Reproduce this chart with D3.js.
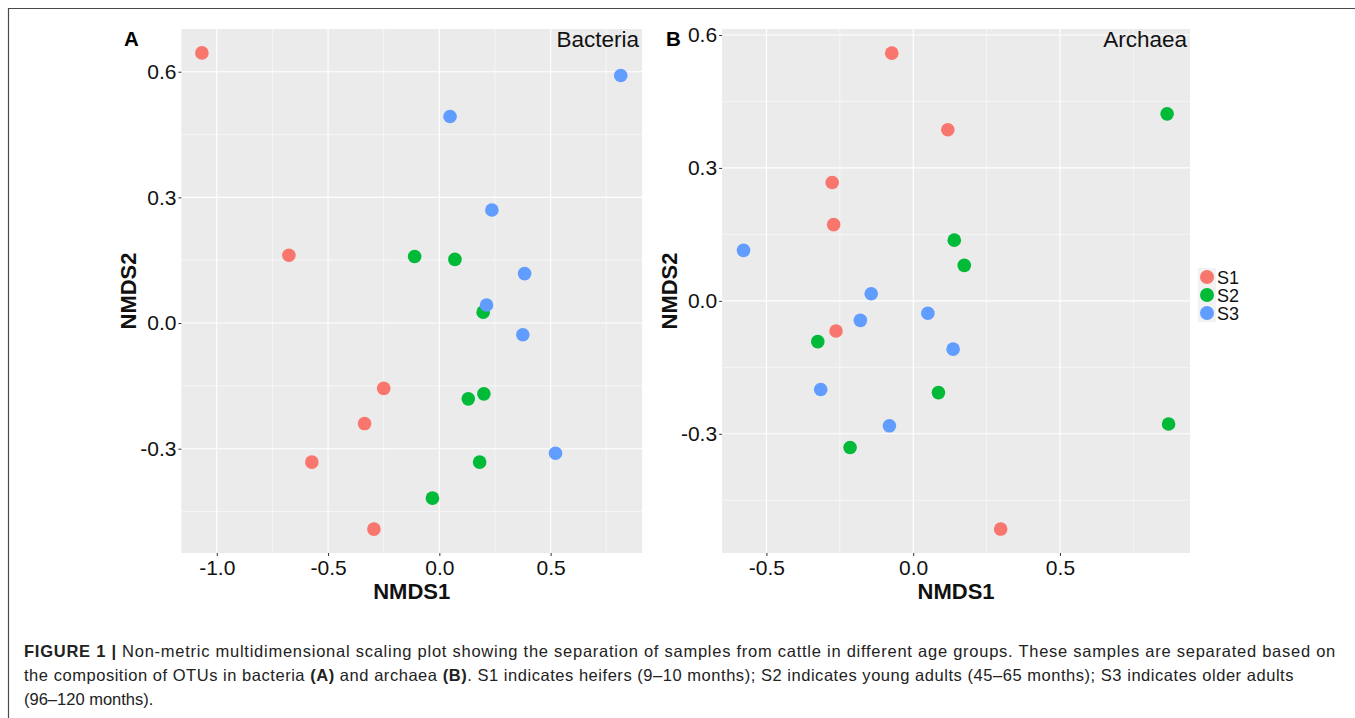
<!DOCTYPE html>
<html>
<head>
<meta charset="utf-8">
<script src="https://cdn.jsdelivr.net/npm/d3@7"></script>
<style>
  body { margin: 0; background: #fff; }
  svg { display: block; font-family: "Liberation Sans", Arial, sans-serif; }
</style>
</head>
<body>
<script>
const width = 1355;
const height = 718;

const groups = ['S1', 'S2', 'S3'];
const colors = ['#F8766D', '#00BA38', '#619CFF'];

// panel A, bacteria: [NMDS1, NMDS2]
const bacteriaS1 = [[-1.067, 0.645], [-0.676, 0.162], [-0.250, -0.156], [-0.336, -0.240], [-0.573, -0.332], [-0.294, -0.492]];
const bacteriaS2 = [[-0.111, 0.159], [0.070, 0.152], [0.197, 0.026], [0.130, -0.181], [0.200, -0.169], [0.181, -0.332], [-0.031, -0.418]];
const bacteriaS3 = [[0.815, 0.591], [0.048, 0.493], [0.236, 0.270], [0.383, 0.118], [0.212, 0.043], [0.375, -0.028], [0.522, -0.311]];

// panel B, archaea
const archaeaS1 = [[-0.073, 0.559], [0.118, 0.386], [-0.276, 0.267], [-0.271, 0.172], [-0.263, -0.068], [0.298, -0.515]];
const archaeaS2 = [[0.865, 0.422], [0.140, 0.137], [0.174, 0.080], [-0.325, -0.092], [0.086, -0.207], [-0.215, -0.331], [0.870, -0.278]];
const archaeaS3 = [[-0.578, 0.114], [-0.143, 0.016], [-0.180, -0.044], [0.050, -0.028], [0.136, -0.109], [-0.315, -0.200], [-0.081, -0.282]];

const xTicksA = [-1.0, -0.5, 0.0, 0.5];
const xTicksB = [-0.5, 0.0, 0.5];
const yTicks = [-0.3, 0.0, 0.3, 0.6];

const captionLines = [
  'Non-metric multidimensional scaling plot showing the separation of samples from cattle in different age groups. These samples are separated based on',
  'the composition of OTUs in bacteria |(A)| and archaea |(B)|. S1 indicates heifers (9\u201310 months); S2 indicates young adults (45\u201365 months); S3 indicates older adults',
  '(96\u2013120 months).'
];

const svg = d3.select('body').append('svg')
  .attr('width', width)
  .attr('height', height);

// figure frame (top + left rule)
svg.append('path')
  .attr('d', `M8.5,${height} V8.5 H${width}`)
  .attr('fill', 'none')
  .attr('stroke', '#4a4a4a')
  .attr('stroke-width', 1.2);

const panels = [
  {
    tag: 'A', title: 'Bacteria',
    xDomain: [-1.159, 0.911], yDomain: [-0.549, 0.702],
    left: 181.4, right: 642.1,
    xTicks: xTicksA,
    series: [bacteriaS1, bacteriaS2, bacteriaS3]
  },
  {
    tag: 'B', title: 'Archaea',
    xDomain: [-0.651, 0.943], yDomain: [-0.569, 0.6135],
    left: 722.1, right: 1190,
    xTicks: xTicksB,
    series: [archaeaS1, archaeaS2, archaeaS3]
  }
];

const plotTop = 29;
const plotBottom = 553;

const midpoints = ticks => {
  const step = ticks[1] - ticks[0];
  const out = [];
  for (let i = -1; i < ticks.length; i++) out.push((i < 0 ? ticks[0] - step : ticks[i]) + step / 2);
  return out;
};

const fmt = d => d3.format('.1f')(d).replace('\u2212', '-');

panels.forEach(p => {
  const x = d3.scaleLinear().domain(p.xDomain).range([p.left, p.right]);
  const y = d3.scaleLinear().domain(p.yDomain).range([plotBottom, plotTop]);
  const g = svg.append('g');

  g.append('rect')
    .attr('x', p.left).attr('y', plotTop)
    .attr('width', p.right - p.left).attr('height', plotBottom - plotTop)
    .attr('fill', '#EBEBEB');

  // minor grid
  const inX = v => v > p.xDomain[0] && v < p.xDomain[1];
  const inY = v => v > p.yDomain[0] && v < p.yDomain[1];
  g.append('g').selectAll('line').data(midpoints(p.xTicks).filter(inX)).join('line')
    .attr('x1', d => x(d)).attr('x2', d => x(d))
    .attr('y1', plotTop).attr('y2', plotBottom)
    .attr('stroke', '#fff').attr('stroke-width', 0.55);
  g.append('g').selectAll('line').data(midpoints(yTicks).filter(inY)).join('line')
    .attr('y1', d => y(d)).attr('y2', d => y(d))
    .attr('x1', p.left).attr('x2', p.right)
    .attr('stroke', '#fff').attr('stroke-width', 0.55);

  // major grid
  g.append('g').selectAll('line').data(p.xTicks).join('line')
    .attr('x1', d => x(d)).attr('x2', d => x(d))
    .attr('y1', plotTop).attr('y2', plotBottom)
    .attr('stroke', '#fff').attr('stroke-width', 1.1);
  g.append('g').selectAll('line').data(yTicks).join('line')
    .attr('y1', d => y(d)).attr('y2', d => y(d))
    .attr('x1', p.left).attr('x2', p.right)
    .attr('stroke', '#fff').attr('stroke-width', 1.1);

  // axes
  const xAxis = g.append('g')
    .attr('transform', `translate(0,${plotBottom})`)
    .call(d3.axisBottom(x).tickValues(p.xTicks).tickFormat(fmt).tickSize(3).tickPadding(4))
    .call(a => a.select('.domain').remove());
  xAxis.selectAll('.tick line').attr('stroke', '#333');
  xAxis.selectAll('.tick text')
    .attr('font-size', 21).attr('fill', '#111')
    .attr('font-family', '"Liberation Sans", Arial, sans-serif');

  const yAxis = g.append('g')
    .attr('transform', `translate(${p.left},0)`)
    .call(d3.axisLeft(y).tickValues(yTicks).tickFormat(fmt).tickSize(3).tickPadding(2))
    .call(a => a.select('.domain').remove());
  yAxis.selectAll('.tick line').attr('stroke', '#333');
  yAxis.selectAll('.tick text')
    .attr('font-size', 21).attr('fill', '#111')
    .attr('font-family', '"Liberation Sans", Arial, sans-serif');

  // points
  p.series.forEach((pts, i) => {
    g.append('g').selectAll('circle').data(pts).join('circle')
      .attr('cx', d => x(d[0]))
      .attr('cy', d => y(d[1]))
      .attr('r', 6.8)
      .attr('fill', colors[i]);
  });

  g.append('text')
    .attr('x', p.right - 3).attr('y', 47)
    .attr('text-anchor', 'end')
    .attr('font-size', 22.5).attr('fill', '#111')
    .text(p.title);

  g.append('text')
    .attr('x', (p.left + p.right) / 2).attr('y', 599)
    .attr('text-anchor', 'middle')
    .attr('font-size', 22).attr('font-weight', 'bold').attr('fill', '#111')
    .text('NMDS1');

  g.append('text')
    .attr('transform', `translate(${p.left - 45},${(plotTop + plotBottom) / 2}) rotate(-90)`)
    .attr('text-anchor', 'middle')
    .attr('font-size', 22).attr('font-weight', 'bold').attr('fill', '#111')
    .text('NMDS2');
});

svg.append('text')
  .attr('x', 124).attr('y', 46)
  .attr('font-size', 20.5).attr('font-weight', 'bold')
  .text('A');
svg.append('text')
  .attr('x', 666).attr('y', 46)
  .attr('font-size', 20.5).attr('font-weight', 'bold')
  .text('B');

// legend
const legend = svg.append('g').attr('transform', 'translate(1198,268)');
const key = legend.selectAll('g').data(groups).join('g')
  .attr('transform', (d, i) => `translate(0,${i * 18})`);
key.append('rect')
  .attr('width', 18).attr('height', 18)
  .attr('fill', '#F2F2F2');
key.append('circle')
  .attr('cx', 9).attr('cy', 9).attr('r', 7)
  .attr('fill', (d, i) => colors[i]);
key.append('text')
  .attr('x', 19).attr('y', 15.5)
  .attr('font-size', 18).attr('fill', '#111')
  .text(d => d);

// caption
const caption = svg.append('g')
  .attr('font-family', '"Liberation Sans", Arial, sans-serif')
  .attr('font-size', 16.5)
  .attr('fill', '#222');
const captionY = [657, 681, 705];
const lineEnds = [1336, 1294, null];
captionLines.forEach((line, i) => {
  const t = caption.append('text').attr('x', 24).attr('y', captionY[i]);
  if (i === 0) {
    t.append('tspan').attr('font-weight', 'bold').text('FIGURE 1 | ');
  }
  line.split('|').forEach((part, j) => {
    t.append('tspan').attr('font-weight', j % 2 ? 'bold' : 'normal').text(part);
  });
  if (lineEnds[i]) {
    const w = t.node().getComputedTextLength();
    const target = lineEnds[i] - 24;
    const n = t.text().length;
    t.attr('letter-spacing', (target - w) / n);
  }
});
</script>
</body>
</html>
